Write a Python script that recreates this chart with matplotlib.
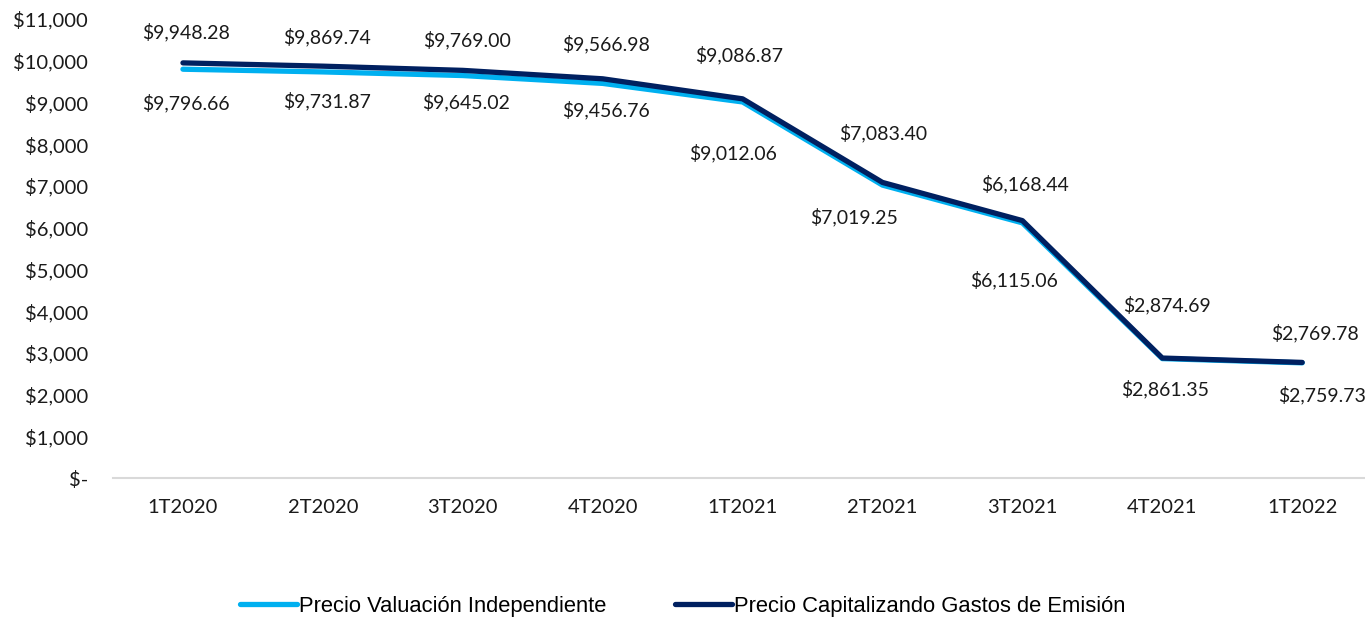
import matplotlib.pyplot as plt
from matplotlib.ticker import FuncFormatter

# data
trimestres = ['1T2020', '2T2020', '3T2020', '4T2020', '1T2021', '2T2021', '3T2021', '4T2021', '1T2022']
precio_valuacion = [9796.66, 9731.87, 9645.02, 9456.76, 9012.06, 7019.25, 6115.06, 2861.35, 2759.73]
precio_capitalizando = [9948.28, 9869.74, 9769.00, 9566.98, 9086.87, 7083.40, 6168.44, 2874.69, 2769.78]

# label offsets in pixels (dx, dy), as placed in the original
off_valuacion = [(3, -34), (4, -29), (3, -27), (3, -27), (-10, -51), (-28, -32), (-8, -57), (3, -30), (20, -32)]
off_capital = [(3, 31), (4, 29), (4, 30), (3, 35), (-3, 44), (1, 49), (3, 37), (5, 53), (13, 29)]

claro = '#00B0F0'
oscuro = '#002060'
etiqueta_font = 'Lato'

fig = plt.figure(figsize=(13.65, 6.19), dpi=100)
ax = fig.add_axes([113 / 1365, 1 - 478 / 619, 1 - 113 / 1365, (478 - 19) / 619])

x = list(range(len(trimestres)))
ax.plot(x, precio_valuacion, color=claro, lw=3.8, solid_capstyle='round',
        label='Precio Valuación Independiente')
ax.plot(x, precio_capitalizando, color=oscuro, lw=3.8, solid_capstyle='round',
        label='Precio Capitalizando Gastos de Emisión')

px = 72 / 100  # pixels to points
for i in x:
    dx, dy = off_capital[i]
    ax.annotate(f'${precio_capitalizando[i]:,.2f}', (i, precio_capitalizando[i]),
                xytext=(dx * px, dy * px), textcoords='offset points',
                ha='center', va='center', fontsize=14, family=etiqueta_font, color='#1a1a1a')
    dx, dy = off_valuacion[i]
    ax.annotate(f'${precio_valuacion[i]:,.2f}', (i, precio_valuacion[i]),
                xytext=(dx * px, dy * px), textcoords='offset points',
                ha='center', va='center', fontsize=14, family=etiqueta_font, color='#1a1a1a')

ax.set_xlim(-0.5, (1365 - 183) / 139.9)
ax.set_ylim(0, 11000)
ax.set_yticks(range(0, 11001, 1000))
ax.yaxis.set_major_formatter(FuncFormatter(lambda v, p: '$-' if v == 0 else f'${v:,.0f}'))
ax.set_xticks(x)
ax.set_xticklabels(trimestres)

for s in ['top', 'right', 'left']:
    ax.spines[s].set_visible(False)
ax.spines['bottom'].set_color('#D9D9D9')
ax.spines['bottom'].set_linewidth(1.5)
ax.tick_params(axis='both', length=0, labelsize=14.5, colors='#1a1a1a')
ax.tick_params(axis='y', pad=18)
ax.tick_params(axis='x', pad=15)
for lab in ax.get_xticklabels() + ax.get_yticklabels():
    lab.set_family(etiqueta_font)

leg = fig.legend(loc='lower center', bbox_to_anchor=(0.5, -0.028), ncol=2, frameon=False,
                 prop={'family': 'Liberation Sans', 'size': 15.8},
                 handlelength=2.6, handletextpad=0.1, columnspacing=3.1)

fig.savefig('out.png', dpi=100)
